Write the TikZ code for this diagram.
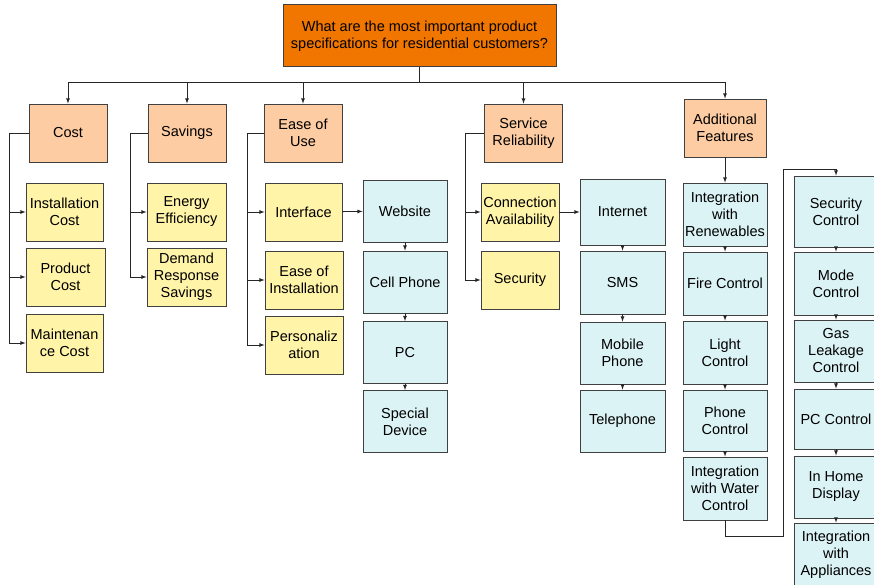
\documentclass[tikz,border=0pt]{standalone}
\usepackage{fontspec}
\setmainfont{Liberation Sans}
\usetikzlibrary{calc}

\definecolor{rootorange}{RGB}{240,118,0}
\definecolor{catpeach}{RGB}{253,204,162}
\definecolor{subyellow}{RGB}{255,244,168}
\definecolor{optblue}{RGB}{220,243,246}

\tikzset{
  every node/.style={font=\fontsize{14.5}{17}\selectfont, align=center, inner sep=0pt},
  rootbox/.style={draw=black!75, line width=1pt, fill=rootorange, minimum width=273, minimum height=62},
  catbox/.style={draw=black!75, line width=0.8pt, fill=catpeach, minimum width=78, minimum height=58},
  subbox/.style={draw=black!75, line width=0.8pt, fill=subyellow, minimum width=78, minimum height=58},
  optbox/.style={draw=black!75, line width=0.8pt, fill=optblue, minimum width=84, minimum height=62},
  link/.style={draw=black!85, line width=0.8pt, ->}
}

\begin{document}
\begin{tikzpicture}[x=1pt, y=-1pt, >=latex]
    \useasboundingbox (0,0) rectangle (874,585);
    \coordinate (bus) at (0,82);
    \coordinate (turn) at (783,169);
    % top question
    \node[rootbox] (root) at (419.5,36) {What are the most important product\\specifications for residential customers?};
    % main categories
    \node[catbox] (cost) at (68,133) {Cost};
    \node[catbox] (savings) at (187,133) {Savings};
    \node[catbox] (ease) at (303,133) {Ease of\\Use};
    \node[catbox] (service) at (523.5,133) {Service\\Reliability};
    \node[catbox, minimum width=82] (addl) at (725,128) {Additional\\Features};
    % cost
    \node[subbox, minimum width=77] (inst) at (64.5,212) {Installation\\Cost};
    \node[subbox, minimum width=79] (prod) at (65.5,277) {Product\\Cost};
    \node[subbox, minimum width=77] (maint) at (64.5,343) {Maintenan\\ce Cost};
    % savings
    \node[subbox, minimum width=79] (energy) at (186.5,212) {Energy\\Efficiency};
    \node[subbox, minimum width=79] (demand) at (186.5,277) {Demand\\Response\\Savings};
    % ease of use
    \node[subbox, minimum width=77] (iface) at (303.5,212) {Interface};
    \node[subbox] (easeinst) at (304,280) {Ease of\\Installation};
    \node[subbox] (pers) at (304,345) {Personaliz\\ation};
    \node[optbox] (website) at (405,211) {Website};
    \node[optbox] (cell) at (405,282) {Cell Phone};
    \node[optbox] (pc) at (405,352.5) {PC};
    \node[optbox] (special) at (405,421.5) {Special\\Device};
    % service reliability
    \node[subbox] (conn) at (520,212) {Connection\\Availability};
    \node[subbox] (secur) at (520,280) {Security};
    \node[optbox, minimum width=85, minimum height=66] (internet) at (622.5,212) {Internet};
    \node[optbox, minimum width=85, minimum height=63] (sms) at (622.5,282.5) {SMS};
    \node[optbox, minimum width=85] (mobile) at (622.5,353) {Mobile\\Phone};
    \node[optbox, minimum width=85] (tele) at (622.5,421) {Telephone};
    % additional features
    \node[optbox, minimum height=63] (renew) at (725,214.5) {Integration\\with\\Renewables};
    \node[optbox, minimum height=63] (fire) at (725,283.5) {Fire Control};
    \node[optbox, minimum height=63] (light) at (725,352.5) {Light\\Control};
    \node[optbox, minimum height=61] (phone) at (725,420.5) {Phone\\Control};
    \node[optbox, minimum height=63] (water) at (725,488.5) {Integration\\with Water\\Control};
    \node[optbox, minimum height=71] (secctl) at (836,211.5) {Security\\Control};
    \node[optbox, minimum height=63] (mode) at (836,283.5) {Mode\\Control};
    \node[optbox] (gas) at (836,351) {Gas\\Leakage\\Control};
    \node[optbox, minimum height=60] (pcctl) at (836,419) {PC Control};
    \node[optbox] (home) at (836,487) {In Home\\Display};
    \node[optbox, minimum height=64] (appl) at (836,555) {Integration\\with\\Appliances};
    % bus from the question
    \foreach \c in {cost,savings,ease,service,addl}
        \draw[link] (root.south) -- (root.south |- bus) -| (\c.north);
    % brackets to the sub items
    \foreach \c in {inst,prod,maint}
        \draw[link] (cost.west) -- ++(-19,0) |- (\c.west);
    \foreach \c in {energy,demand}
        \draw[link] (savings.west) -- ++(-17,0) |- (\c.west);
    \foreach \c in {iface,easeinst,pers}
        \draw[link] (ease.west) -- ++(-16,0) |- (\c.west);
    \foreach \c in {conn,secur}
        \draw[link] (service.west) -- ++(-19,0) |- (\c.west);
    \draw[link] (iface) -- (website);
    \draw[link] (conn) -- (internet);
    % chains
    \draw[link] (website) -- (cell);
    \draw[link] (cell) -- (pc);
    \draw[link] (pc) -- (special);
    \draw[link] (internet) -- (sms);
    \draw[link] (sms) -- (mobile);
    \draw[link] (mobile) -- (tele);
    \draw[link] (addl) -- (renew);
    \draw[link] (renew) -- (fire);
    \draw[link] (fire) -- (light);
    \draw[link] (light) -- (phone);
    \draw[link] (phone) -- (water);
    \draw[link] (water.south) -- ++(0,16) -| (turn) -| (secctl.north);
    \draw[link] (secctl) -- (mode);
    \draw[link] (mode) -- (gas);
    \draw[link] (gas) -- (pcctl);
    \draw[link] (pcctl) -- (home);
    \draw[link] (home) -- (appl);
\end{tikzpicture}
\end{document}
